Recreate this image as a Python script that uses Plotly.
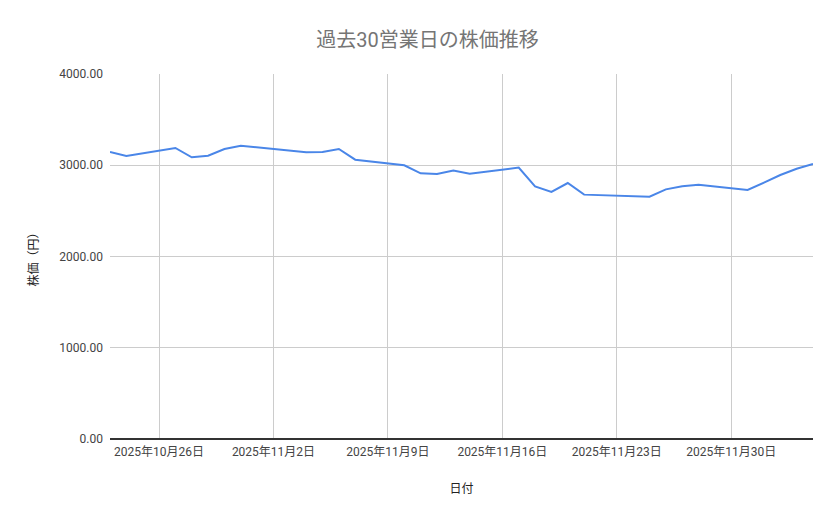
"""
過去30営業日の株価推移 — Google スプレッドシート風の折れ線グラフ
"""
import plotly.graph_objects as go

# ── データ ────────────────────────────────────────────────────────────────────
dates = [
    "2025-10-23", "2025-10-24", "2025-10-27", "2025-10-28", "2025-10-29",
    "2025-10-30", "2025-10-31", "2025-11-04", "2025-11-05", "2025-11-06",
    "2025-11-07", "2025-11-10", "2025-11-11", "2025-11-12", "2025-11-13",
    "2025-11-14", "2025-11-17", "2025-11-18", "2025-11-19", "2025-11-20",
    "2025-11-21", "2025-11-25", "2025-11-26", "2025-11-27", "2025-11-28",
    "2025-12-01", "2025-12-02", "2025-12-03", "2025-12-04", "2025-12-05",
]
prices = [
    3145, 3101, 3189, 3087, 3105,
    3178, 3214, 3142, 3145, 3178,
    3061, 2999, 2911, 2904, 2941,
    2908, 2974, 2769, 2707, 2805,
    2678, 2655, 2736, 2769, 2787,
    2729, 2809, 2893, 2962, 3014,
]

tick_dates = ["2025-10-26", "2025-11-02", "2025-11-09",
              "2025-11-16", "2025-11-23", "2025-11-30"]
tick_labels = ["2025年10月26日", "2025年11月2日", "2025年11月9日",
               "2025年11月16日", "2025年11月23日", "2025年11月30日"]

y_ticks = [0, 1000, 2000, 3000, 4000]

FONT = "Roboto, 'Noto Sans CJK JP', sans-serif"

# ── グラフ ────────────────────────────────────────────────────────────────────
fig = go.Figure(go.Scatter(
    x=dates, y=prices, mode="lines",
    line=dict(color="#4a86e8", width=2),
    showlegend=False,
))

fig.update_layout(
    width=839, height=519,
    margin=dict(l=102, r=34, t=66, b=88),
    paper_bgcolor="white", plot_bgcolor="white",
    font=dict(family=FONT, size=12, color="#444444"),
    title=dict(text="過去30営業日の株価推移", x=0.5, xanchor="center",
               y=0.938, yanchor="middle",
               font=dict(family=FONT, size=20, color="#757575")),
)

fig.update_xaxes(
    range=[dates[0], dates[-1]],
    tickvals=tick_dates, ticktext=tick_labels,
    showgrid=True, gridcolor="#cccccc", gridwidth=1,
    showline=False, zeroline=False, ticks="", ticklabelstandoff=4,
    tickfont=dict(size=12, color="#444444"),
    title=dict(text="日付", standoff=26,
               font=dict(size=12, color="#222222")),
)

fig.update_yaxes(
    range=[0, 4000],
    tickvals=y_ticks, tickformat=".2f",
    showgrid=True, gridcolor="#cccccc", gridwidth=1,
    zeroline=True, zerolinecolor="#333333", zerolinewidth=1.5,
    showline=False, ticks="", ticklabelstandoff=6,
    tickfont=dict(size=12, color="#444444"),
    title=dict(text="株価（円）", standoff=18,
               font=dict(size=12, color="#222222")),
)

fig.write_html("out.html")
